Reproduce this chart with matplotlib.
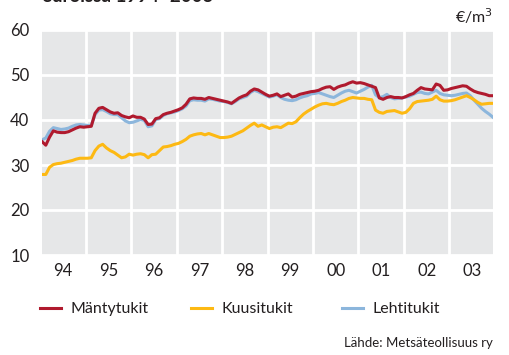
import matplotlib.pyplot as plt
import numpy as np

# Monthly pulpwood stumpage prices, EUR/m3, Jan 1994 - Dec 2003
mantytukit = [
    35.2, 34.4, 36.2, 37.6, 37.3, 37.2, 37.2, 37.4, 37.8, 38.2, 38.5, 38.4,
    38.5, 38.6, 41.5, 42.6, 42.8, 42.3, 41.8, 41.5, 41.6, 41.0, 40.7, 40.5,
    40.9, 40.6, 40.6, 40.2, 39.0, 39.1, 40.3, 40.5, 41.2, 41.5, 41.7, 42.0,
    42.3, 42.7, 43.5, 44.7, 44.9, 44.8, 44.8, 44.6, 45.0, 44.8, 44.6, 44.4,
    44.2, 44.0, 43.7, 44.3, 44.9, 45.3, 45.6, 46.4, 46.9, 46.7, 46.2, 45.7,
    45.3, 45.5, 45.8, 45.2, 45.5, 45.8, 45.1, 45.3, 45.7, 45.9, 46.1, 46.3,
    46.4, 46.6, 47.0, 47.3, 47.4, 46.8, 47.3, 47.6, 47.8, 48.2, 48.5, 48.2,
    48.3, 48.1, 47.8, 47.5, 47.2, 44.9, 44.6, 45.0, 45.2, 45.0, 45.0, 44.9,
    45.2, 45.6, 45.9, 46.6, 47.2, 46.9, 46.8, 46.7, 48.0, 47.7, 46.6, 46.7,
    47.0, 47.2, 47.4, 47.6, 47.5, 46.9, 46.4, 46.1, 45.9, 45.7, 45.4, 45.4,
]
kuusitukit = [
    27.9, 27.9, 29.5, 30.1, 30.3, 30.4, 30.6, 30.8, 31.0, 31.3, 31.5, 31.5,
    31.5, 31.6, 33.2, 34.2, 34.6, 33.8, 33.2, 32.8, 32.2, 31.6, 31.8, 32.4,
    32.2, 32.4, 32.5, 32.3, 31.6, 32.3, 32.4, 33.2, 34.0, 34.1, 34.3, 34.6,
    34.8, 35.2, 35.7, 36.4, 36.7, 36.9, 37.0, 36.7, 37.0, 36.7, 36.4, 36.1,
    36.1, 36.2, 36.4, 36.8, 37.2, 37.6, 38.2, 38.8, 39.3, 38.6, 38.9, 38.5,
    38.1, 38.4, 38.5, 38.3, 38.8, 39.3, 39.2, 39.6, 40.5, 41.3, 41.9, 42.4,
    42.9, 43.3, 43.6, 43.7, 43.5, 43.4, 43.7, 44.1, 44.4, 44.8, 45.0, 44.9,
    44.8, 44.8, 44.6, 44.5, 42.2, 41.7, 41.5, 41.9, 42.0, 42.1, 41.8, 41.5,
    41.7, 42.5, 43.7, 44.1, 44.2, 44.3, 44.4, 44.6, 45.3, 44.5, 44.2, 44.2,
    44.3, 44.5, 44.8, 45.1, 45.4, 45.0, 44.5, 43.9, 43.5, 43.6, 43.7, 43.7,
]
lehtitukit = [
    35.6, 36.0, 37.5, 38.3, 38.1, 37.9, 38.0, 38.2, 38.6, 38.9, 39.0, 38.9,
    38.8, 38.8, 41.2, 42.2, 42.3, 41.9, 41.4, 41.2, 41.2, 40.5, 39.8, 39.4,
    39.5, 39.8, 40.1, 39.9, 38.5, 38.7, 40.1, 40.3, 41.0, 41.4, 41.6, 41.8,
    42.1, 42.5, 43.1, 44.3, 44.5, 44.4, 44.4, 44.2, 44.7, 44.6, 44.4, 44.2,
    44.1, 43.9, 43.6, 44.1, 44.7, 45.0, 45.3, 46.1, 46.6, 46.3, 45.9, 45.5,
    45.1, 45.3, 45.6, 45.0, 44.6, 44.4, 44.3, 44.5, 44.9, 45.2, 45.4, 45.8,
    45.9, 46.1, 45.8, 45.5, 45.2, 45.0, 45.5, 46.0, 46.4, 46.6, 46.3, 46.0,
    46.4, 46.8, 47.3, 47.7, 45.6, 45.0, 45.2, 45.7, 45.0, 44.7, 44.8, 44.9,
    45.1, 45.3, 45.7, 46.1, 46.2, 45.9, 45.8, 46.2, 46.6, 45.9, 45.6, 45.5,
    45.4, 45.5, 45.7, 45.9, 46.0, 45.4, 44.4, 43.5, 42.6, 41.9, 41.3, 40.6,
]
years = list(range(1994, 2004))
year_labels = [f"{y % 100:02d}" for y in years]

# months placed at their mid point
t = np.array([1994 + (i + 0.5) / 12 for i in range(len(mantytukit))])

RED = "#b01a2e"
YELLOW = "#fdb913"
BLUE = "#8cb6dc"
BG = "#e6e7e8"
INK = "#231f20"

plt.rcParams['font.family'] = ['Lato', 'DejaVu Sans']

fig = plt.figure(figsize=(5.09, 3.55), dpi=100)
ax = fig.add_axes([42 / 509, 100 / 355, 451 / 509, 225 / 355])
ax.set_facecolor(BG)

l_lehti, = ax.plot(t, lehtitukit, color=BLUE, lw=2.2, label="Lehtitukit", zorder=3)
l_kuusi, = ax.plot(t, kuusitukit, color=YELLOW, lw=2.2, label="Kuusitukit", zorder=4)
l_manty, = ax.plot(t, mantytukit, color=RED, lw=2.2, label="Mäntytukit", zorder=5)

ax.set_xlim(t[0], t[-1])
ax.set_ylim(10, 60)
ax.set_yticks([10, 20, 30, 40, 50, 60])
ax.set_xticks(years[1:])
ax.set_xticklabels([])
ax.set_xticks([y + 0.5 for y in years], minor=True)
ax.set_xticklabels(year_labels, minor=True)
ax.grid(True, which='major', color='white', lw=2.0)
ax.set_axisbelow(True)
ax.tick_params(which='both', length=0, labelsize=12, colors=INK)
ax.tick_params(axis='y', pad=9)
ax.tick_params(axis='x', which='minor', pad=6)
for s in ax.spines.values():
    s.set_visible(False)

# one small legend per series, spaced along the bottom
for line, x0 in [(l_manty, 40), (l_kuusi, 191), (l_lehti, 342)]:
    leg = fig.legend([line], [line.get_label()], loc='center left',
                     bbox_to_anchor=(x0 / 509, 1 - 309 / 355),
                     frameon=False, fontsize=11.5, handlelength=1.3,
                     handletextpad=0.6, borderpad=0, borderaxespad=0,
                     labelcolor=INK)

fig.text(493 / 509, 1 - 16 / 355, "€/m$^3$", ha='right', va='center',
         fontsize=11.5, color=INK)
fig.text(493 / 509, 1 - 343 / 355, "Lähde: Metsäteollisuus ry", ha='right',
         va='center', fontsize=9.5, color=INK)
fig.text(42 / 509, 1 - 2.5 / 355, "euroissa 1994–2003", ha='left',
         va='baseline', fontsize=13.5, fontweight='bold', color=INK)

fig.savefig("out.png", dpi=100)
